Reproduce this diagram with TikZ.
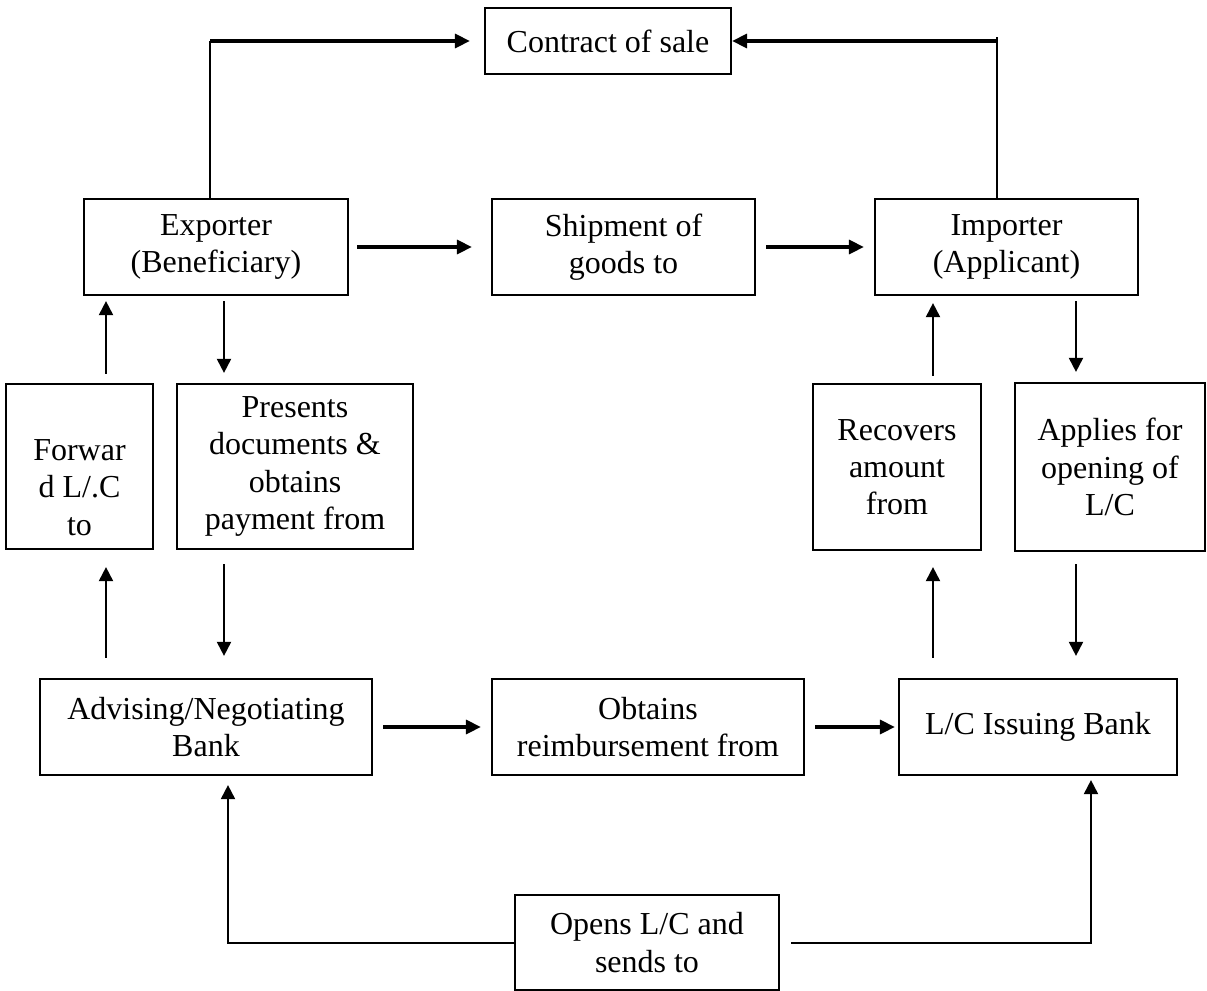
\documentclass[tikz,border=0pt]{standalone}
\usepackage{fontspec}
\setmainfont{Liberation Serif}
\usetikzlibrary{arrows.meta}

\begin{document}
\begin{tikzpicture}[
        x=0.5pt, y=-0.5pt,
        box/.style={draw, line width=1.1pt, align=center, inner sep=0pt,
            font=\fontsize{16}{18.6}\selectfont},
        varrow/.style={-{Triangle[length=7pt,width=7pt]}, line width=1pt},
        harrow/.style={-{Triangle[length=7.5pt,width=7pt]}, line width=1.6pt},
        tline/.style={line width=0.7pt}
    ]
    \useasboundingbox (0,0) rectangle (1207,991);

    \node[box, minimum width=123pt, minimum height=33pt] (contract) at (608,41) {Contract of sale};
    \node[box, minimum width=132pt, minimum height=48pt] (exporter) at (216,247) {Exporter\\(Beneficiary)};
    \node[box, minimum width=131.5pt, minimum height=48pt] (shipment) at (623.5,247) {Shipment of\\goods to};
    \node[box, minimum width=131.5pt, minimum height=48pt] (importer) at (1006.5,247) {Importer\\(Applicant)};
    \node[box, minimum width=73.5pt, minimum height=82.5pt] (forward) at (79.5,466.5) {\strut\\Forwar\\d L/.C\\to};
    \node[box, minimum width=118pt, minimum height=82.5pt] (presents) at (295,466.5) {Presents\\documents \&\\obtains\\payment from};
    \node[box, minimum width=84pt, minimum height=83pt] (recovers) at (897,467) {Recovers\\amount\\from};
    \node[box, minimum width=95pt, minimum height=84pt] (applies) at (1110,467) {Applies for\\opening of\\L/C};
    \node[box, minimum width=166pt, minimum height=48pt] (advising) at (206,727) {Advising/Negotiating\\Bank};
    \node[box, minimum width=156pt, minimum height=48pt] (obtains) at (648,727) {Obtains\\reimbursement from};
    \node[box, minimum width=139pt, minimum height=48pt] (issuing) at (1038,727) {L/C Issuing Bank};
    \node[box, minimum width=132pt, minimum height=47.5pt] (opens) at (647,942.5) {Opens L/C and\\sends to};

    \coordinate (c1) at (106,0);
    \coordinate (c2) at (224,0);
    \coordinate (c3) at (933,0);
    \coordinate (c4) at (1076,0);
    \coordinate (c5) at (210,0);
    \coordinate (c6) at (997,0);
    \coordinate (c7) at (228,0);
    \coordinate (c8) at (1091,0);

    \draw[tline] (exporter.north -| c5) -- (contract.west -| c5);
    \draw[harrow, shorten >=7pt] (contract.west -| c5) -- (contract.west);
    \draw[tline] (importer.north -| c6) -- ([yshift=2pt]contract.east -| c6);
    \draw[harrow] (contract.east -| c6) -- (contract.east);

    \draw[harrow, shorten <=4pt, shorten >=9.5pt] (exporter.east) -- (shipment.west);
    \draw[harrow, shorten <=5pt, shorten >=5pt] (shipment.east) -- (importer.west);

    \draw[varrow, shorten <=4.5pt, shorten >=2.5pt] (forward.north -| c1) -- (exporter.south -| c1);
    \draw[varrow, shorten <=2.5pt, shorten >=5pt] (exporter.south -| c2) -- (presents.north -| c2);
    \draw[varrow, shorten <=3.5pt, shorten >=3.5pt] (recovers.north -| c3) -- (importer.south -| c3);
    \draw[varrow, shorten <=2.5pt, shorten >=5pt] (importer.south -| c4) -- (applies.north -| c4);

    \draw[varrow, shorten <=10pt, shorten >=8.5pt] (advising.north -| c1) -- (forward.south -| c1);
    \draw[varrow, shorten <=7pt, shorten >=11pt] (presents.south -| c2) -- (advising.north -| c2);
    \draw[varrow, shorten <=10pt, shorten >=8pt] (issuing.north -| c3) -- (recovers.south -| c3);
    \draw[varrow, shorten <=6pt, shorten >=11pt] (applies.south -| c4) -- (issuing.north -| c4);

    \draw[harrow, shorten <=5pt, shorten >=5pt] (advising.east) -- (obtains.west);
    \draw[harrow, shorten <=5pt, shorten >=1.5pt] (obtains.east) -- (issuing.west);

    \draw[varrow, shorten >=4.5pt] (opens.west) -| (advising.south -| c7);
    \draw[varrow, shorten <=5.5pt, shorten >=2pt] (opens.east) -| (issuing.south -| c8);
\end{tikzpicture}
\end{document}
